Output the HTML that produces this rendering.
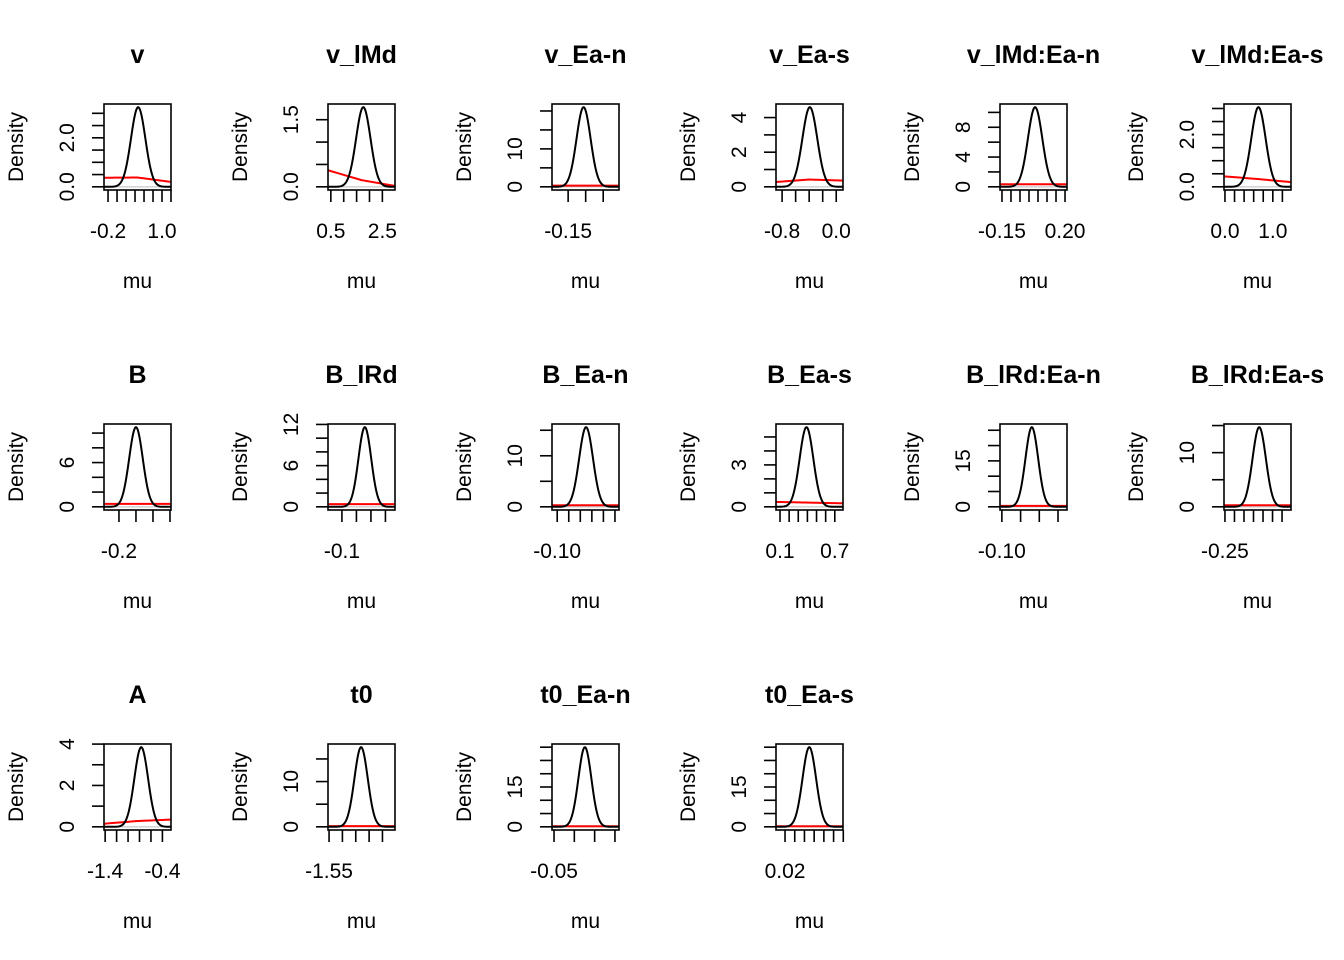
<!DOCTYPE html>
<html><head><meta charset="utf-8"><style>
html,body{margin:0;padding:0;background:#fff;}
svg{display:block;font-family:"Liberation Sans",Arial,sans-serif;}
</style></head><body>
<svg id="chart" width="1344" height="960" viewBox="0 0 1344 960"></svg>
<script>
// ---- data ----
const titles = ["v","v_lMd","v_Ea-n","v_Ea-s","v_lMd:Ea-n","v_lMd:Ea-s","B","B_lRd","B_Ea-n","B_Ea-s","B_lRd:Ea-n","B_lRd:Ea-s","A","t0","t0_Ea-n","t0_Ea-s"];
const xDomains = [[-0.29,1.2],[0.39,2.99],[-0.196,-0.005],[-0.89,0.1],[-0.161,0.211],[-0.02,1.38],[-0.288,0.106],[-0.148,0.083],[-0.109,0.007],[0.056,0.79],[-0.105,0.074],[-0.255,0.097],[-1.42,-0.25],[-1.554,-1.303],[-0.055,0.11],[0.0107,0.0797]];
const xTicks = [
 [-0.2,0,0.2,0.4,0.6,0.8,1.0,1.2],[0.5,1.0,1.5,2.0,2.5],[-0.15,-0.10,-0.05],[-0.8,-0.6,-0.4,-0.2,0],
 [-0.15,-0.10,-0.05,0,0.05,0.10,0.15,0.20],[0,0.2,0.4,0.6,0.8,1.0,1.2],
 [-0.2,-0.1,0,0.1],[-0.1,-0.05,0,0.05],[-0.10,-0.08,-0.06,-0.04,-0.02,0],[0.1,0.2,0.3,0.4,0.5,0.6,0.7],
 [-0.10,-0.05,0,0.05],[-0.25,-0.20,-0.15,-0.10,-0.05,0,0.05],
 [-1.4,-1.2,-1.0,-0.8,-0.6,-0.4],[-1.55,-1.50,-1.45,-1.40,-1.35],[-0.05,0,0.05,0.10],[0.02,0.03,0.04,0.05,0.06,0.07,0.08]];
const xLabels = [[["-0.2",-0.2],["1.0",1.0]],[["0.5",0.5],["2.5",2.5]],[["-0.15",-0.15]],[["-0.8",-0.8],["0.0",0]],
 [["-0.15",-0.15],["0.20",0.20]],[["0.0",0],["1.0",1.0]],[["-0.2",-0.2]],[["-0.1",-0.1]],[["-0.10",-0.10]],[["0.1",0.1],["0.7",0.7]],
 [["-0.10",-0.10]],[["-0.25",-0.25]],[["-1.4",-1.4],["-0.4",-0.4]],[["-1.55",-1.55]],[["-0.05",-0.05]],[["0.02",0.02]]];
const yTicks = [
 [0,0.5,1,1.5,2,2.5,3],[0,0.5,1,1.5],[0,5,10,15,20],[0,1,2,3,4],[0,2,4,6,8,10],[0,0.5,1,1.5,2,2.5,3],
 [0,2,4,6,8,10],[0,2,4,6,8,10,12],[0,5,10,15],[0,1,2,3,4,5],[0,5,10,15,20,25],[0,5,10,15],
 [0,1,2,3,4],[0,5,10,15],[0,5,10,15,20,25,30],[0,5,10,15,20,25,30]];
const yLabels = [[["0.0",0],["2.0",2]],[["0.0",0],["1.5",1.5]],[["0",0],["10",10]],[["0",0],["2",2],["4",4]],[["0",0],["4",4],["8",8]],[["0.0",0],["2.0",2]],
 [["0",0],["6",6]],[["0",0],["6",6],["12",12]],[["0",0],["10",10]],[["0",0],["3",3]],[["0",0],["15",15]],[["0",0],["10",10]],
 [["0",0],["2",2],["4",4]],[["0",0],["10",10]],[["0",0],["15",15]],[["0",0],["15",15]]];
const postMean = [0.47,1.76,-0.106,-0.39,0.034,0.7,-0.1,-0.021,-0.05,0.39,-0.02,-0.07,-0.77,-1.43,0.026,0.045];
const postSd = [0.16,0.28,0.02,0.11,0.04,0.15,0.04,0.022,0.012,0.075,0.017,0.035,0.12,0.025,0.016,0.007];
const postPeak = [3.25,1.78,21,4.6,10.7,3.05,10.8,11.6,15.6,5.7,26,14.7,3.85,17.6,30,30];
const priorLeft = [0.37,0.37,0.3,0.28,0.35,0.4,0.4,0.4,0.3,0.35,0.3,0.3,0.15,0.15,0.2,0.2];
const priorMid = [0.38,0.15,0.3,0.42,0.35,0.3,0.4,0.4,0.3,0.3,0.3,0.3,0.28,0.15,0.2,0.2];
const priorRight = [0.2,0.02,0.3,0.36,0.35,0.18,0.4,0.4,0.3,0.25,0.3,0.3,0.35,0.15,0.2,0.2];

const NS="http://www.w3.org/2000/svg";
const svg=document.getElementById('chart');
function mk(tag,attrs,parent){const e=document.createElementNS(NS,tag);for(const k in attrs)e.setAttribute(k,attrs[k]);(parent||svg).appendChild(e);return e;}

titles.forEach((t,i)=>{
  const c=i%6, r=Math.floor(i/6);
  const L=104+224*c, R=171+224*c, T=104+320*r, B=190+320*r;
  const [x0,x1]=xDomains[i];
  const yTop=postPeak[i]*1.04, yBot=-postPeak[i]*0.04;
  const sx=v=>L+(v-x0)/(x1-x0)*(R-L);
  const sy=v=>B-(v-yBot)/(yTop-yBot)*(B-T);
  const g=mk('g',{});
  
  
  const cx=(L+R)/2;
  const tt=mk('text',{x:cx,y:63+320*r,'text-anchor':'middle','font-size':'25','font-weight':'bold'},g);
  tt.textContent=t;
  
  
  const yl=mk('text',{x:0,y:0,'text-anchor':'middle','font-size':'21',transform:`translate(${23+224*c},${147+320*r}) rotate(-90)`},g);
  yl.textContent='Density';
  
  
  const xl=mk('text',{x:cx,y:288+320*r,'text-anchor':'middle','font-size':'21'},g);
  xl.textContent='mu';
  
  
  const zl=mk('line',{x1:L,x2:R,y1:sy(0),y2:sy(0),stroke:'#bbb','stroke-width':1},g);
  
  
  const N=40; let pp=[];
  for(let k=0;k<=N;k++){const f=k/N;const v=f<0.5?priorLeft[i]+(priorMid[i]-priorLeft[i])*(f/0.5):priorMid[i]+(priorRight[i]-priorMid[i])*((f-0.5)/0.5);pp.push(sx(x0+f*(x1-x0)).toFixed(2)+','+sy(v).toFixed(2));}
  const pr=mk('polyline',{points:pp.join(' '),fill:'none',stroke:'#ff0000','stroke-width':2},g);
  
  
  let pts=[];
  for(let k=0;k<=120;k++){const x=x0+k/120*(x1-x0);const z=(x-postMean[i])/postSd[i];pts.push(sx(x).toFixed(2)+','+sy(postPeak[i]*Math.exp(-0.5*z*z)).toFixed(2));}
  const po=mk('polyline',{points:pts.join(' '),fill:'none',stroke:'#000','stroke-width':2},g);
  
  
  const bx=mk('rect',{x:L,y:T,width:R-L,height:B-T,fill:'none',stroke:'#000','stroke-width':1.6},g);
  
  
  xTicks[i].forEach(v=>{const tk=mk('line',{x1:sx(v),x2:sx(v),y1:B,y2:B+12,stroke:'#000','stroke-width':1.6},g);
    
    });
  xLabels[i].forEach(([s,v])=>{const tx=mk('text',{x:sx(v),y:238+320*r,'text-anchor':'middle','font-size':'21'},g);tx.textContent=s;
    
    });
  yTicks[i].forEach(v=>{const tk=mk('line',{x1:L-12,x2:L,y1:sy(v),y2:sy(v),stroke:'#000','stroke-width':1.6},g);
    
    });
  yLabels[i].forEach(([s,v])=>{const tx=mk('text',{x:0,y:0,'text-anchor':'middle','font-size':'21',transform:`translate(${74+224*c},${sy(v)}) rotate(-90)`},g);tx.textContent=s;
    
    });
});
</script>
</body></html>
